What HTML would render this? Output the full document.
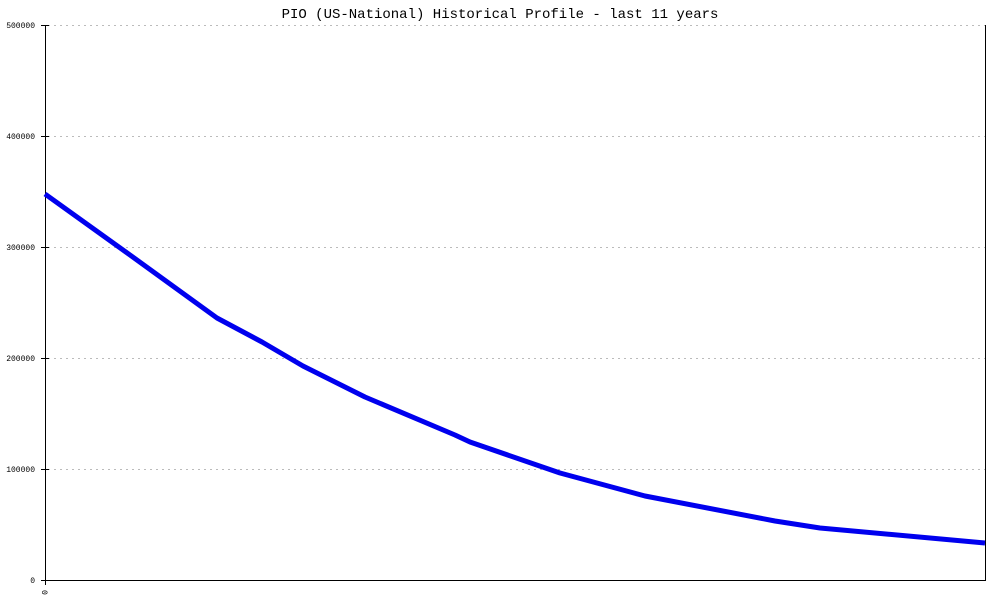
<!DOCTYPE html>
<html><head><meta charset="utf-8"><style>body{margin:0;background:#fff}svg{display:block}</style></head><body>
<svg width="1000" height="600" xmlns="http://www.w3.org/2000/svg" font-family="Liberation Mono, monospace">
<text x="500" y="18" text-anchor="middle" font-size="14" fill="#000">PIO (US-National) Historical Profile - last 11 years</text>
<g stroke="#bbb" stroke-dasharray="2,4" stroke-width="1">
<line x1="48" y1="25.5" x2="985" y2="25.5"/><line x1="48" y1="136.5" x2="985" y2="136.5"/><line x1="48" y1="247.5" x2="985" y2="247.5"/><line x1="48" y1="358.5" x2="985" y2="358.5"/><line x1="48" y1="469.5" x2="985" y2="469.5"/>
</g>
<g stroke="#000" stroke-width="1">
<line x1="45.5" y1="25" x2="45.5" y2="585"/><line x1="985.5" y1="25" x2="985.5" y2="580"/><line x1="41" y1="580.5" x2="986" y2="580.5"/>
<line x1="41" y1="25.5" x2="49" y2="25.5"/><line x1="41" y1="136.5" x2="49" y2="136.5"/><line x1="41" y1="247.5" x2="49" y2="247.5"/><line x1="41" y1="358.5" x2="49" y2="358.5"/><line x1="41" y1="469.5" x2="49" y2="469.5"/>
</g>
<g font-size="8" text-anchor="end" fill="#000">
<text x="35" y="28">500000</text><text x="35" y="139">400000</text><text x="35" y="250">300000</text><text x="35" y="361">200000</text><text x="35" y="472">100000</text><text x="35" y="583">0</text>
</g>
<text font-size="8" transform="translate(42,590) rotate(90)">0</text>
<polyline fill="none" stroke="#0000ee" stroke-width="5" stroke-linejoin="round" points="45,194 130,255 217,318 262,342 303,366 365,397 455,435 470,442 560,473 645,496 775,521 820,528 985,543"/>
</svg>
</body></html>
